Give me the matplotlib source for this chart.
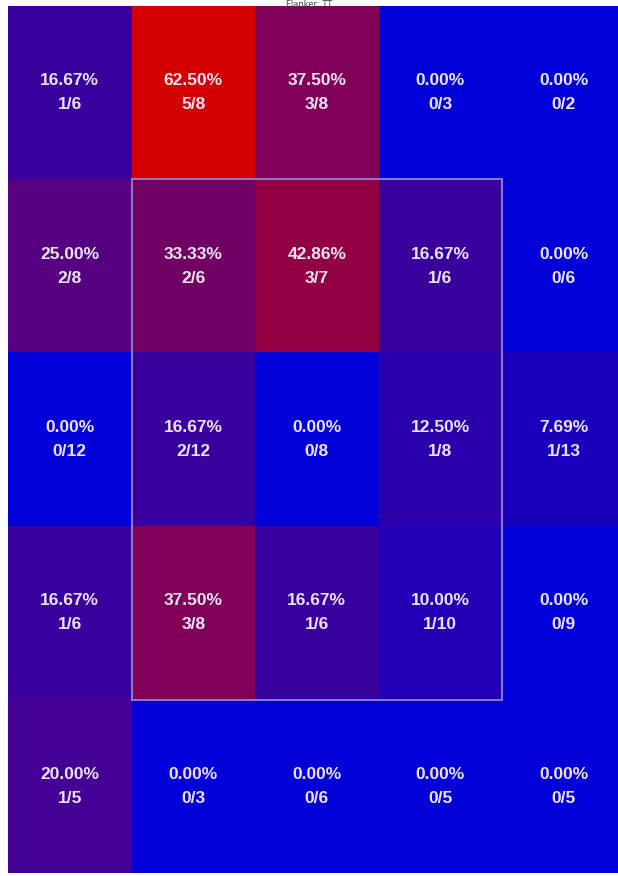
import numpy as np
import matplotlib
matplotlib.use("Agg")
import matplotlib.pyplot as plt
from matplotlib.colors import LinearSegmentedColormap
from matplotlib.patches import Rectangle

numerators = [
    [1, 5, 3, 0, 0],
    [2, 2, 3, 1, 0],
    [0, 2, 0, 1, 1],
    [1, 3, 1, 1, 0],
    [1, 0, 0, 0, 0],
]
denominators = [
    [6, 8, 8, 3, 2],
    [8, 6, 7, 6, 6],
    [12, 12, 8, 8, 13],
    [6, 8, 6, 10, 9],
    [5, 3, 6, 5, 5],
]
title_text = "Flanker: TT"

num = np.array(numerators, dtype=float)
den = np.array(denominators, dtype=float)
rate = num / den

W, H = 618, 876
fig = plt.figure(figsize=(W / 100, H / 100), dpi=100)
left, top = 8, 6
cw, rh = 123.5, 173.4
ax = fig.add_axes([left / W, 1 - (top + 5 * rh) / H, 5 * cw / W, 5 * rh / H])

cmap = LinearSegmentedColormap.from_list("br", [(0 / 255, 0 / 255, 215 / 255), (212 / 255, 0, 0)])
ax.imshow(rate, cmap=cmap, vmin=0, vmax=0.625, aspect="auto", interpolation="nearest")
ax.set_xlim(-0.5, 4.5)
ax.set_ylim(4.5, -0.5)
ax.axis("off")

for i in range(5):
    for j in range(5):
        ax.text(j, i, f"{rate[i, j] * 100:.2f}%\n{int(num[i, j])}/{int(den[i, j])}",
                ha="center", va="center", color=(0.93, 0.89, 0.97), fontsize=12.5,
                fontweight="bold", family=["Liberation Sans", "DejaVu Sans"],
                linespacing=1.75)

ax.add_patch(Rectangle((0.5, 0.5), 3, 3, fill=False, edgecolor=(0.58, 0.52, 0.85),
                       linewidth=1.5, alpha=0.9, zorder=5))

fig.text(0.5, 1.0, title_text, ha="center", va="top", fontsize=6, color="#444444", zorder=10)

fig.savefig("out.png", dpi=100)
